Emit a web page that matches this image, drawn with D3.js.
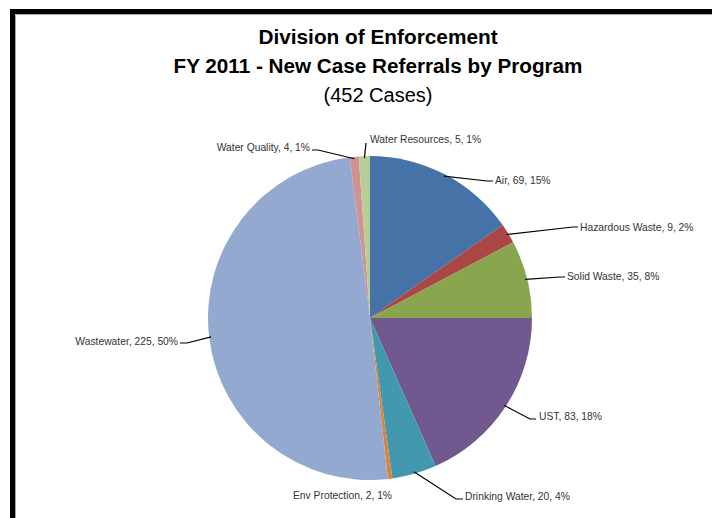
<!DOCTYPE html>
<html><head><meta charset="utf-8">
<script src="https://cdn.jsdelivr.net/npm/d3@7"></script>
<style>body{margin:0;background:#fff}svg{display:block}</style>
</head><body>
<script>
const categories = ["Air","Hazardous Waste","Solid Waste","UST","Drinking Water","Env Protection","Wastewater","Water Quality","Water Resources"];
const values = [69,9,35,83,20,2,225,4,5];
const percents = ["15%","2%","8%","18%","4%","1%","50%","1%","1%"];
const colors = ["#4572A7","#AA4643","#89A54E","#71588F","#4198AF","#DB843D","#93A9CF","#D19392","#B9CD96"];
const titleLines = ["Division of Enforcement","FY 2011 - New Case Referrals by Program","(452 Cases)"];

// label layout: elbow points and text anchor (layout only)
const labelLayout = {
  "Air": {pts:[[487,181],[493,181]], tx:495, ty:180, anchor:"start"},
  "Hazardous Waste": {pts:[[573,227],[578,227]], tx:580, ty:227, anchor:"start"},
  "Solid Waste": {pts:[[560,277],[565,277]], tx:567, ty:276, anchor:"start"},
  "UST": {pts:[[530,419],[536,419]], tx:539, ty:416, anchor:"start"},
  "Drinking Water": {pts:[[456,499],[463,499]], tx:465, ty:496, anchor:"start"},
  "Env Protection": {pts:null, tx:293, ty:495, anchor:"start"},
  "Wastewater": {pts:[[187,343],[180,343]], tx:178, ty:341, anchor:"end"},
  "Water Quality": {pts:[[318,150],[312,150]], tx:310, ty:147, anchor:"end"},
  "Water Resources": {pts:[[366,143]], tx:370, ty:139, anchor:"start"}
};

const W=712,H=518;
const svg=d3.select("body").append("svg").attr("width",W).attr("height",H);
svg.append("rect").attr("width",W).attr("height",H).attr("fill","#fff");
// frame
svg.append("rect").attr("x",10).attr("y",9).attr("width",W-10).attr("height",5).attr("fill","#000");
svg.append("rect").attr("x",10).attr("y",9).attr("width",5).attr("height",H-9).attr("fill","#000");
svg.append("line").attr("x1",15.5).attr("y1",14.5).attr("x2",W).attr("y2",14.5).attr("stroke","#aaa");
svg.append("line").attr("x1",15.5).attr("y1",14.5).attr("x2",15.5).attr("y2",H).attr("stroke","#aaa");

// titles
const tcx=378;
const ff="Liberation Sans, Arial, sans-serif";
svg.append("text").attr("x",tcx).attr("y",44).attr("text-anchor","middle")
  .attr("font-family",ff).attr("font-weight","bold").attr("font-size",20.8).attr("fill","#000").text(titleLines[0]);
svg.append("text").attr("x",tcx).attr("y",73).attr("text-anchor","middle")
  .attr("font-family",ff).attr("font-weight","bold").attr("font-size",20.7).attr("fill","#000").text(titleLines[1]);
svg.append("text").attr("x",tcx).attr("y",102).attr("text-anchor","middle")
  .attr("font-family",ff).attr("font-size",20).attr("fill","#000").text(titleLines[2]);

const cx=370, cy=318, R=162;
const data=categories.map((c,i)=>({name:c,value:values[i],pct:percents[i],color:colors[i]}));
const pie=d3.pie().value(d=>d.value).sort(null);
const arcs=pie(data);
const arc=d3.arc().innerRadius(0).outerRadius(R);
const g=svg.append("g").attr("transform",`translate(${cx},${cy})`);
g.selectAll("path").data(arcs).join("path").attr("d",arc).attr("fill",d=>d.data.color);

const outer=d3.arc().innerRadius(R-2).outerRadius(R-2);
arcs.forEach(a=>{
  const L=labelLayout[a.data.name];
  if(L.pts){
    const c=outer.centroid(a);
    const p0=[cx+c[0],cy+c[1]];
    const pts=[p0,...L.pts];
    svg.append("path").attr("d",d3.line()(pts)).attr("fill","none").attr("stroke","#000").attr("stroke-width",1.2);
  }
  svg.append("text").attr("x",L.tx).attr("y",L.ty).attr("dy","0.35em").attr("text-anchor",L.anchor)
    .attr("font-family",ff).attr("font-size",10.3).attr("fill","#333")
    .text(`${a.data.name}, ${a.data.value}, ${a.data.pct}`);
});
</script>
</body></html>
